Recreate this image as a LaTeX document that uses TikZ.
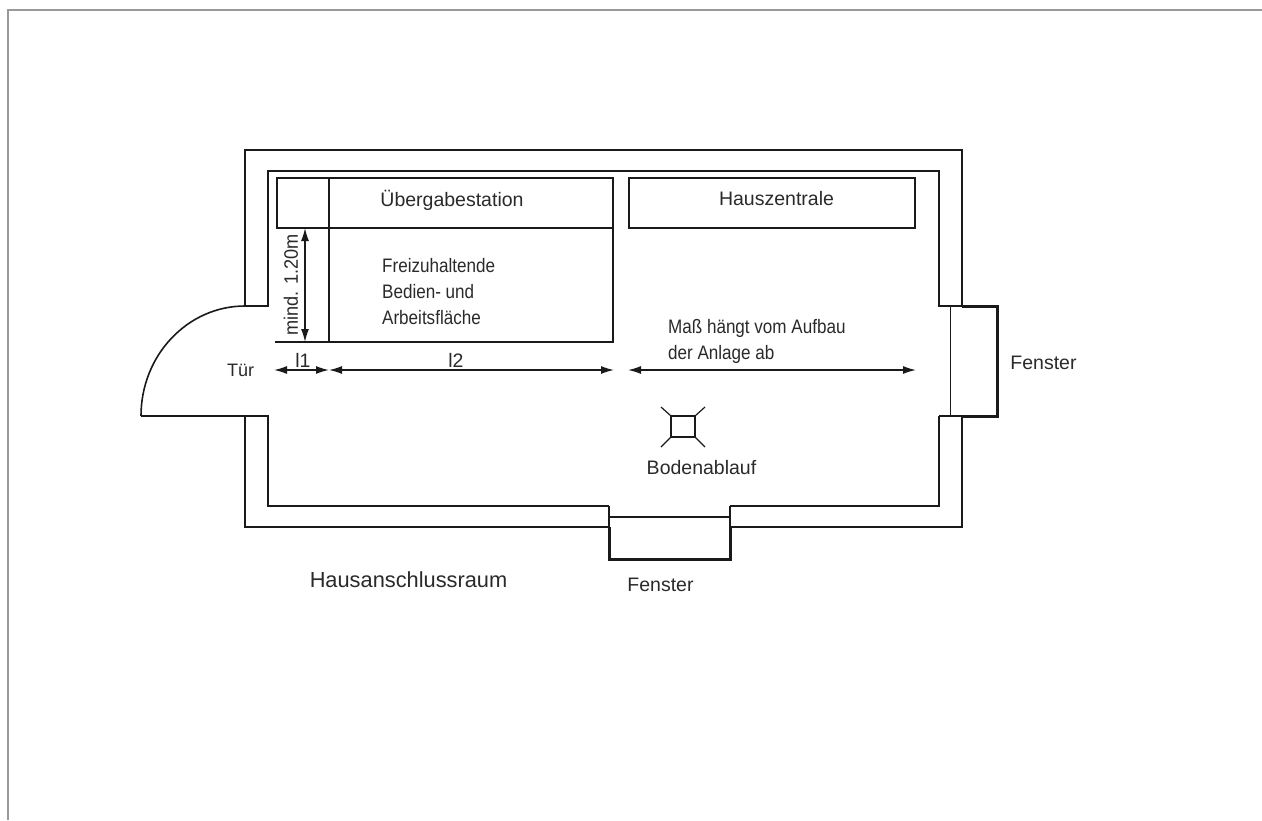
\documentclass[tikz,border=0pt]{standalone}
\usepackage{fontspec}
\setmainfont{Liberation Sans}
\usetikzlibrary{arrows.meta}
\definecolor{ink}{HTML}{1A1A1A}
\definecolor{txt}{HTML}{2A2A2A}
\tikzset{
  wall/.style={draw=ink,line width=2pt,line join=miter},
  heavy/.style={draw=ink,line width=3pt,line join=miter},
  thin wall/.style={draw=ink,line width=1.8pt},
  dim/.style={draw=ink,line width=1.4pt,{Latex[length=13pt,width=8pt]}-{Latex[length=13pt,width=8pt]}},
  lab/.style={font=\fontsize{19.5}{26}\selectfont,text=txt,inner sep=0pt,anchor=center,align=left},
}
\begin{document}
\begin{tikzpicture}[x=1pt,y=-1pt]
\useasboundingbox (0,0) rectangle (1262,820);
\fill[white] (0,0) rectangle (1262,820);
% page frame
\draw[draw=black!40,line width=2pt] (7.5,820) -- (7.5,9.5) -- (1262,9.5);
% outer and inner walls
\draw[wall] (245,306) -- (245,150) -- (962,150) -- (962,306);
\draw[wall] (245,306) -- (268,306) -- (268,171) -- (939,171) -- (939,306) -- (962,306);
\draw[wall] (141,416) -- (268,416) -- (268,506) -- (609,506);
\draw[wall] (245,416) -- (245,527) -- (609,527);
\draw[wall] (939,416) -- (939,506) -- (730,506);
\draw[wall] (962,416) -- (962,527) -- (730,527);
\draw[wall] (939,416) -- (962,416);
% door swing
\draw[draw=ink,line width=1.6pt] (141,416) arc[start angle=180,end angle=90,x radius=104,y radius=-110];
% windows
\draw[heavy] (962,306) -- (997,306) -- (997,416) -- (962,416);
\draw[thin wall] (950.5,306) -- (950.5,416);
\draw[heavy] (609,527) -- (609,559) -- (730,559) -- (730,527);
\draw[wall] (609,506) -- (609,527);
\draw[wall] (730,506) -- (730,527);
\draw[thin wall] (609,517) -- (730,517);
% stations
\draw[wall] (276.5,178) rectangle (613,228);
\draw[wall] (629,178) rectangle (915,228);
\draw[wall] (613,228) -- (613,342) -- (275,342);
\draw[wall] (329,178) -- (329,342);
% dimension arrows
\coordinate (vt) at (305,228); \coordinate (vb) at (305,342);
\coordinate (a1) at (274,370); \coordinate (a2) at (329,370);
\coordinate (a3) at (329,370); \coordinate (a4) at (614,370);
\coordinate (a5) at (628,370); \coordinate (a6) at (916,370);
\draw[dim] (vt) -- (vb);
\draw[dim] (a1) -- (a2);
\draw[dim] (a3) -- (a4);
\draw[dim] (a5) -- (a6);
% floor drain
\draw[draw=ink,line width=1.5pt] (671,416) rectangle (695,437);
\draw[draw=ink,line width=1.2pt] (671,416) -- (661,407) (695,416) -- (705,407) (671,437) -- (661,447) (695,437) -- (705,447);
% labels
\node[lab] (t1) at (452,200) {Übergabestation};
\node[lab] (t2) at (776.5,199) {Hauszentrale};
\node[lab,anchor=west,xscale=.875] (t3) at (382,292) {Freizuhaltende\\Bedien- und\\Arbeitsfläche};
\node[lab,rotate=90,xscale=.93] (t4) at (291,285) {mind. 1.20m};
\node[lab] (t5) at (303,360) {l1};
\node[lab] (t6) at (456,360) {l2};
\node[lab,font=\fontsize{18}{22}\selectfont] (t7) at (240.5,370) {Tür};
\node[lab,anchor=west,xscale=.875] (t8) at (668,341) {Maß hängt vom Aufbau\\der Anlage ab};
\node[lab] (t9) at (701.5,468) {Bodenablauf};
\node[lab] (t10) at (1043.5,363) {Fenster};
\node[lab] (t11) at (660.5,585) {Fenster};
\node[lab,font=\fontsize{21.8}{26}\selectfont] (t12) at (408.5,580) {Hausanschlussraum};
\end{tikzpicture}
\end{document}
